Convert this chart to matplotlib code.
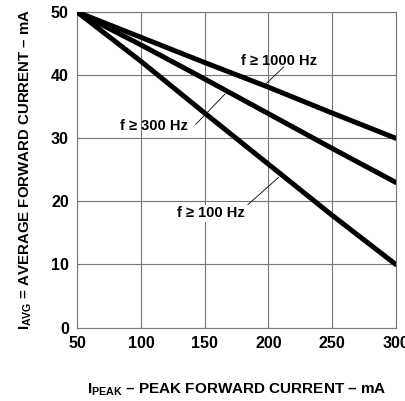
import matplotlib
matplotlib.use("Agg")
from matplotlib import pyplot as plt

plt.rcParams['font.family'] = ['Liberation Sans', 'DejaVu Sans']
plt.rcParams['mathtext.fontset'] = 'custom'
plt.rcParams['mathtext.rm'] = 'Liberation Sans:bold'
plt.rcParams['mathtext.bf'] = 'Liberation Sans:bold'

# peak current (mA) and max average current (mA) per frequency
i_peak = [50, 100, 150, 200, 250, 300]
avg_1000hz = [50, 46, 42, 38.1, 34, 30]
avg_300hz = [50, 44.8, 39.4, 33.9, 28.4, 23]
avg_100hz = [50, 42.2, 34, 25.9, 17.8, 10]

x_ticks = [50, 100, 150, 200, 250, 300]
y_ticks = [0, 10, 20, 30, 40, 50]

fig = plt.figure(figsize=(4.06, 4.01), dpi=100)
ax = fig.add_axes([0.19, 0.183, 0.785, 0.787])

for y in (avg_1000hz, avg_300hz, avg_100hz):
    ax.plot(i_peak, y, color='black', linewidth=3.6, solid_capstyle='round', zorder=3)

ax.set_xlim(50, 300)
ax.set_ylim(0, 50)
ax.set_xticks(x_ticks)
ax.set_yticks(y_ticks)
ax.grid(True, color='#777777', linewidth=0.8)
for s in ax.spines.values():
    s.set_color('#777777')
    s.set_linewidth(0.8)
ax.tick_params(length=0, pad=6, labelsize=11.5)
for lbl in ax.get_xticklabels() + ax.get_yticklabels():
    lbl.set_fontweight('bold')
ax.set_axisbelow(True)

fam = ['Liberation Sans', 'DejaVu Sans']

# curve labels with leader lines
ax.text(208, 42.3, 'f \u2265 1000 Hz', ha='center', va='center', fontsize=10.5,
        fontweight='bold', family=fam)
ax.plot([212, 198], [41.3, 38.6], color='black', linewidth=0.6)

ax.text(110, 31.9, 'f \u2265 300 Hz', ha='center', va='center', fontsize=10.5,
        fontweight='bold', family=fam)
ax.plot([143, 166], [32.2, 37.0], color='black', linewidth=0.6)

ax.text(155, 18.1, 'f \u2265 100 Hz', ha='center', va='center', fontsize=10.5,
        fontweight='bold', family=fam,
        bbox=dict(facecolor='white', edgecolor='none', pad=1))
ax.plot([184, 208], [19.5, 23.8], color='black', linewidth=0.6)

ax.set_xlabel(r'$\mathbf{I_{PEAK}}$' + ' \u2013 PEAK FORWARD CURRENT \u2013 mA',
              fontsize=11, fontweight='bold', labelpad=22)
ax.set_ylabel(r'$\mathbf{I_{AVG}}$' + ' = AVERAGE FORWARD CURRENT \u2013 mA',
              fontsize=10.8, fontweight='bold', labelpad=12)

fig.savefig('out.png', dpi=100)
